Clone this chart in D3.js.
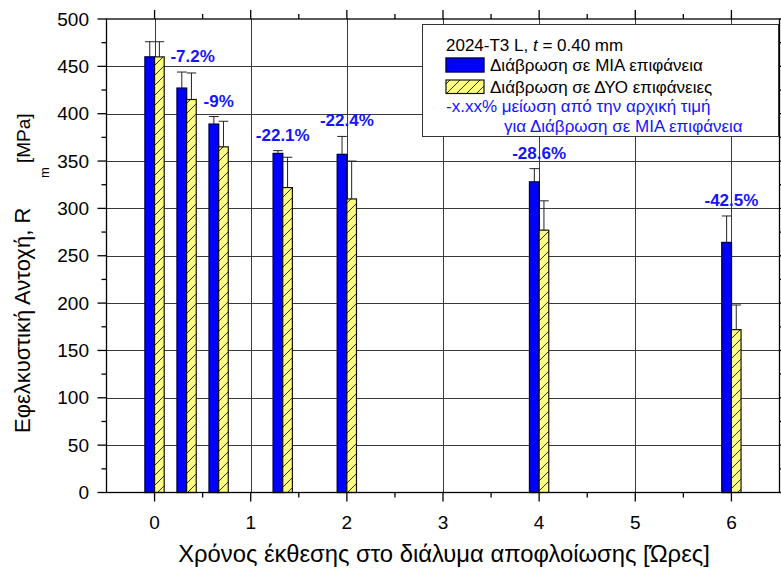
<!DOCTYPE html>
<html>
<head>
<meta charset="utf-8">
<script src="https://cdn.jsdelivr.net/npm/d3@7"></script>
<style>
  html, body { margin: 0; padding: 0; background: #fff; }
  svg { display: block; font-family: "Liberation Sans", Arial, sans-serif; }
</style>
</head>
<body>
<svg id="chart" width="781" height="572"></svg>
<script>
// Exposure time in hours
const times = [0, 1/3, 2/3, 4/3, 2, 4, 6];
// Tensile strength Rm [MPa], corrosion on ONE surface
const oneSide = [460, 427, 389, 358, 357, 328, 264];
const oneSideErr = [16, 17, 8, 3, 19, 14, 28];
// Tensile strength Rm [MPa], corrosion on TWO surfaces
const twoSide = [460, 415, 365, 322, 310, 277, 172];
const twoSideErr = [16, 28, 27, 32, 40, 31, 26];
// Reduction from the initial value (one-surface corrosion), per time index
const reductionLabels = ["", "-7.2%", "-9%", "-22.1%", "-22.4%", "-28.6%", "-42.5%"];
// Axis ticks
const xTicks = [0, 1, 2, 3, 4, 5, 6];
const xMinorTicks = [0.5, 1.5, 2.5, 3.5, 4.5, 5.5];
const yTicks = [0, 50, 100, 150, 200, 250, 300, 350, 400, 450, 500];
const yMinorTicks = [25, 75, 125, 175, 225, 275, 325, 375, 425, 475];

const svg = d3.select("#chart");
const pLeft = 106.5, pRight = 779.5, pTop = 19, pBottom = 492.5;
const x = d3.scaleLinear().domain([-0.5, 6.5]).range([pLeft, pRight]);
const y = d3.scaleLinear().domain([0, 500]).range([pBottom, pTop]);
const barW = 0.1; // bar width in hours

const defs = svg.append("defs");
const hatch = defs.append("pattern")
  .attr("id", "hatch").attr("patternUnits", "userSpaceOnUse")
  .attr("width", 10).attr("height", 10);
hatch.append("rect").attr("width", 10).attr("height", 10).attr("fill", "#ffff80");
hatch.append("path").attr("d", "M-1,11 L11,-1 M-6,6 L6,-6 M4,16 L16,4")
  .attr("stroke", "#111").attr("stroke-width", 0.9);

// Grid
const grid = svg.append("g").attr("stroke", "#3a3a3a").attr("stroke-width", 1);
grid.selectAll("line.h").data(yTicks.filter(v => v > 0 && v < 500)).join("line")
  .attr("x1", pLeft).attr("x2", pRight)
  .attr("y1", d => Math.round(y(d)) + 0.5).attr("y2", d => Math.round(y(d)) + 0.5);
grid.selectAll("line.v").data(xTicks).join("line")
  .attr("y1", pTop).attr("y2", pBottom)
  .attr("x1", d => Math.round(x(d)) + 0.5).attr("x2", d => Math.round(x(d)) + 0.5);

// Bars
const rows = times.map((t, i) => ({
  t, one: oneSide[i], oneErr: oneSideErr[i], two: twoSide[i], twoErr: twoSideErr[i], label: reductionLabels[i]
}));

const bars = svg.append("g");
bars.selectAll("rect.one").data(rows).join("rect")
  .attr("x", d => x(d.t - barW)).attr("width", d => x(d.t) - x(d.t - barW))
  .attr("y", d => y(d.one)).attr("height", d => y(0) - y(d.one))
  .attr("fill", "#0000ff").attr("stroke", "#00005a").attr("stroke-width", 1.4);
bars.selectAll("rect.two").data(rows).join("rect")
  .attr("x", d => x(d.t)).attr("width", d => x(d.t + barW) - x(d.t))
  .attr("y", d => y(d.two)).attr("height", d => y(0) - y(d.two))
  .attr("fill", "url(#hatch)").attr("stroke", "#111").attr("stroke-width", 1.2);

// Error bars (upper side)
function errorBars(cx, val, err) {
  const g = svg.append("g").attr("stroke", "#222").attr("stroke-width", 1);
  g.selectAll("line.s").data(rows).join("line")
    .attr("x1", d => x(cx(d))).attr("x2", d => x(cx(d)))
    .attr("y1", d => y(val(d))).attr("y2", d => y(val(d) + err(d)));
  g.selectAll("line.c").data(rows).join("line")
    .attr("x1", d => x(cx(d) - barW / 2)).attr("x2", d => x(cx(d) + barW / 2))
    .attr("y1", d => y(val(d) + err(d))).attr("y2", d => y(val(d) + err(d)));
}
errorBars(d => d.t - barW / 2, d => d.one, d => d.oneErr);
errorBars(d => d.t + barW / 2, d => d.two, d => d.twoErr);

// Frame and ticks
const axes = svg.append("g").attr("stroke", "#000").attr("stroke-width", 1.3).attr("fill", "none");
axes.append("rect").attr("x", pLeft).attr("y", pTop).attr("width", pRight - pLeft).attr("height", pBottom - pTop);

function ticks(vals, len, horizontal) {
  vals.forEach(v => {
    if (horizontal) {
      const px = x(v);
      axes.append("line").attr("x1", px).attr("x2", px).attr("y1", pBottom).attr("y2", pBottom + len);
      axes.append("line").attr("x1", px).attr("x2", px).attr("y1", pTop).attr("y2", pTop - len);
    } else {
      const py = y(v);
      axes.append("line").attr("y1", py).attr("y2", py).attr("x1", pLeft).attr("x2", pLeft - len);
      axes.append("line").attr("y1", py).attr("y2", py).attr("x1", pRight).attr("x2", pRight + len);
    }
  });
}
ticks(xTicks, 9, true);
ticks(xMinorTicks, 5, true);
ticks(yTicks, 9, false);
ticks(yMinorTicks, 5, false);

// Tick labels
svg.append("g").selectAll("text").data(xTicks).join("text")
  .attr("x", d => x(d)).attr("y", 529)
  .attr("text-anchor", "middle").attr("font-size", 19).attr("fill", "#000")
  .text(d => d);
svg.append("g").selectAll("text").data(yTicks).join("text")
  .attr("x", 89).attr("y", d => y(d)).attr("dy", "0.35em")
  .attr("text-anchor", "end").attr("font-size", 19).attr("fill", "#000")
  .text(d => d);

// Axis titles
svg.append("text").attr("x", 444).attr("y", 562)
  .attr("text-anchor", "middle").attr("font-size", 23.8).attr("fill", "#000")
  .text("Χρόνος έκθεσης στο διάλυμα αποφλοίωσης [Ώρες]");

svg.append("text").attr("transform", "translate(30,433) rotate(-90)")
  .attr("font-size", 22).attr("fill", "#000")
  .text("Εφελκυστική Αντοχή, R");
svg.append("text").attr("transform", "translate(49,178) rotate(-90)")
  .attr("font-size", 13).attr("fill", "#000")
  .text("m");
svg.append("text").attr("transform", "translate(30,163) rotate(-90)")
  .attr("font-size", 19).attr("fill", "#000")
  .text("[MPa]");

// Reduction percentages above the one-surface bars
svg.append("g").selectAll("text").data(rows.filter(d => d.label)).join("text")
  .attr("x", d => x(d.t) + (d.t > 0 && d.t < 0.5 ? 6 : 0)).attr("y", d => y(d.one + d.oneErr) - 10)
  .attr("text-anchor", "middle").attr("font-size", 17).attr("font-weight", "bold")
  .attr("fill", "#1414ff").text(d => d.label);

// Legend
const lg = svg.append("g");
lg.append("rect").attr("x", 422.5).attr("y", 24.5).attr("width", 356).attr("height", 112)
  .attr("fill", "#fff").attr("stroke", "#333").attr("stroke-width", 1);
const l1 = lg.append("text").attr("x", 446).attr("y", 51).attr("font-size", 17).attr("fill", "#000");
l1.append("tspan").text("2024-T3 L, ");
l1.append("tspan").attr("font-style", "italic").text("t");
l1.append("tspan").text(" = 0.40 mm");
lg.append("rect").attr("x", 446).attr("y", 58).attr("width", 38).attr("height", 14)
  .attr("fill", "#0000ff").attr("stroke", "#00005a").attr("stroke-width", 1.4);
lg.append("text").attr("x", 490).attr("y", 71).attr("font-size", 17).attr("fill", "#000")
  .text("Διάβρωση σε ΜΙΑ επιφάνεια");
lg.append("rect").attr("x", 446).attr("y", 80).attr("width", 38).attr("height", 13.5)
  .attr("fill", "url(#hatch)").attr("stroke", "#111").attr("stroke-width", 1.2);
lg.append("text").attr("x", 490).attr("y", 93).attr("font-size", 17).attr("fill", "#000")
  .text("Διάβρωση σε ΔΥΟ επιφάνειες");
lg.append("text").attr("x", 446).attr("y", 112).attr("font-size", 17).attr("fill", "#1414ff")
  .text("-x.xx% μείωση από την αρχική τιμή");
lg.append("text").attr("x", 504).attr("y", 132).attr("font-size", 17).attr("fill", "#1414ff")
  .text("για Διάβρωση σε ΜΙΑ επιφάνεια");
</script>
</body>
</html>
